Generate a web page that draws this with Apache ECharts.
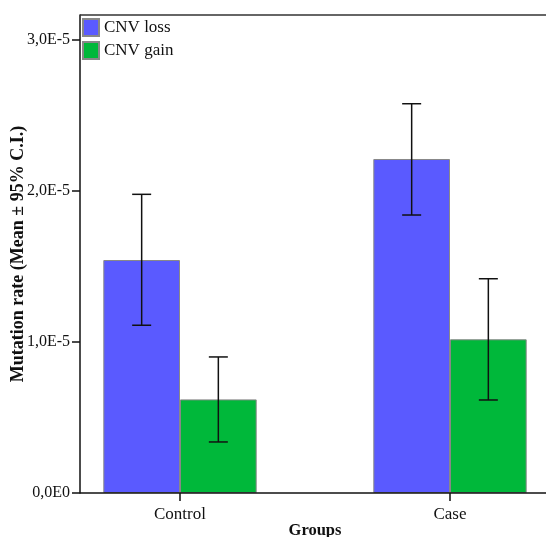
<!DOCTYPE html>
<html><head><meta charset="utf-8">
<script src="https://cdn.jsdelivr.net/npm/echarts@6/dist/echarts.min.js"></script>
<style>html,body{margin:0;padding:0;background:#fff}#c{width:546px;height:537px}</style>
</head><body><div id="c"></div>
<script>
const categories = ['Control', 'Case'];
const seriesNames = ['CNV loss', 'CNV gain'];
const lossMean = [1.543e-5, 2.212e-5];
const lossLow = [1.111e-5, 1.841e-5];
const lossHigh = [1.978e-5, 2.578e-5];
const gainMean = [0.620e-5, 1.018e-5];
const gainLow = [0.338e-5, 0.616e-5];
const gainHigh = [0.901e-5, 1.419e-5];
const yTicks = [0, 1e-5, 2e-5, 3e-5];
const yTickLabels = ['0,0E0', '1,0E-5', '2,0E-5', '3,0E-5'];
const yMax = 3.1656e-5;

const FONT = 'Liberation Serif';
const chart = echarts.init(document.getElementById('c'), null, {renderer: 'canvas'});

function errSeries(low, high, side) {
  return {
    type: 'custom', silent: true, z: 10,
    renderItem: function (params, api) {
      const cat = api.value(0);
      const lo = api.coord([cat, api.value(1)]);
      const hi = api.coord([cat, api.value(2)]);
      const band = api.size([1, 0])[0];
      const x = lo[0] + side * band * 0.142;
      const hw = 9.5;
      const st = {stroke: '#111', lineWidth: 1.5};
      return {type: 'group', children: [
        {type: 'line', shape: {x1: x, y1: hi[1], x2: x, y2: lo[1]}, style: st},
        {type: 'line', shape: {x1: x - hw, y1: hi[1], x2: x + hw, y2: hi[1]}, style: st},
        {type: 'line', shape: {x1: x - hw, y1: lo[1], x2: x + hw, y2: lo[1]}, style: st}
      ]};
    },
    data: categories.map((c, i) => [i, low[i], high[i]])
  };
}

chart.setOption({
  animation: false,
  backgroundColor: '#fff',
  textStyle: {fontFamily: FONT},
  grid: {left: 45, right: -39, top: 15, bottom: 44, outerBoundsMode: 'none', containLabel: false},
  legend: {
    data: seriesNames, orient: 'vertical', left: 82, top: 18, padding: 0,
    itemGap: 4, itemWidth: 16, itemHeight: 17, icon: 'rect',
    textStyle: {fontFamily: FONT, fontSize: 17, color: '#111'}
  },
  xAxis: {
    type: 'category', data: categories,
    name: 'Groups', nameLocation: 'middle', nameGap: 29, nameMoveOverlap: false,
    nameTextStyle: {fontFamily: FONT, fontSize: 16.5, fontWeight: 'bold', color: '#111'},
    axisLine: {show: false},
    axisTick: {show: true, alignWithLabel: true, length: 8, lineStyle: {color: '#111', width: 1.5}},
    axisLabel: {fontFamily: FONT, fontSize: 17, color: '#111', margin: 13},
    splitLine: {show: false}
  },
  yAxis: {
    type: 'value', min: 0, max: yMax, interval: 1e-5, offset: -35,
    name: 'Mutation rate (Mean ± 95% C.I.)', nameLocation: 'middle', nameGap: 53, nameMoveOverlap: false,
    nameTextStyle: {fontFamily: FONT, fontSize: 18, fontWeight: 'bold', color: '#111'},
    axisLine: {show: true, lineStyle: {color: '#111', width: 1.5}},
    axisTick: {show: true, length: 8, customValues: yTicks, lineStyle: {color: '#111', width: 1.5}},
    axisLabel: {
      customValues: yTicks, fontFamily: FONT, fontSize: 16, color: '#111', margin: 10,
      formatter: function (v) {
        const i = yTicks.findIndex(t => Math.abs(t - v) < 1e-9);
        return i >= 0 ? yTickLabels[i] : '';
      }
    },
    splitLine: {show: false}
  },
  graphic: [
    {type: 'line', shape: {x1: 80, y1: 15, x2: 546, y2: 15}, style: {stroke: '#333', lineWidth: 1.5}, z: 100},
    {type: 'line', shape: {x1: 80, y1: 493, x2: 546, y2: 493}, style: {stroke: '#111', lineWidth: 1.5}, z: 100}
  ],
  series: [
    {name: seriesNames[0], type: 'bar', data: lossMean, barWidth: '28.4%', barGap: '0%',
     itemStyle: {color: '#5a5aff', borderColor: '#888', borderWidth: 1}},
    {name: seriesNames[1], type: 'bar', data: gainMean, barWidth: '28.4%', barGap: '0%',
     itemStyle: {color: '#00b83a', borderColor: '#888', borderWidth: 1}},
    errSeries(lossLow, lossHigh, -1),
    errSeries(gainLow, gainHigh, 1)
  ]
});
</script></body></html>
